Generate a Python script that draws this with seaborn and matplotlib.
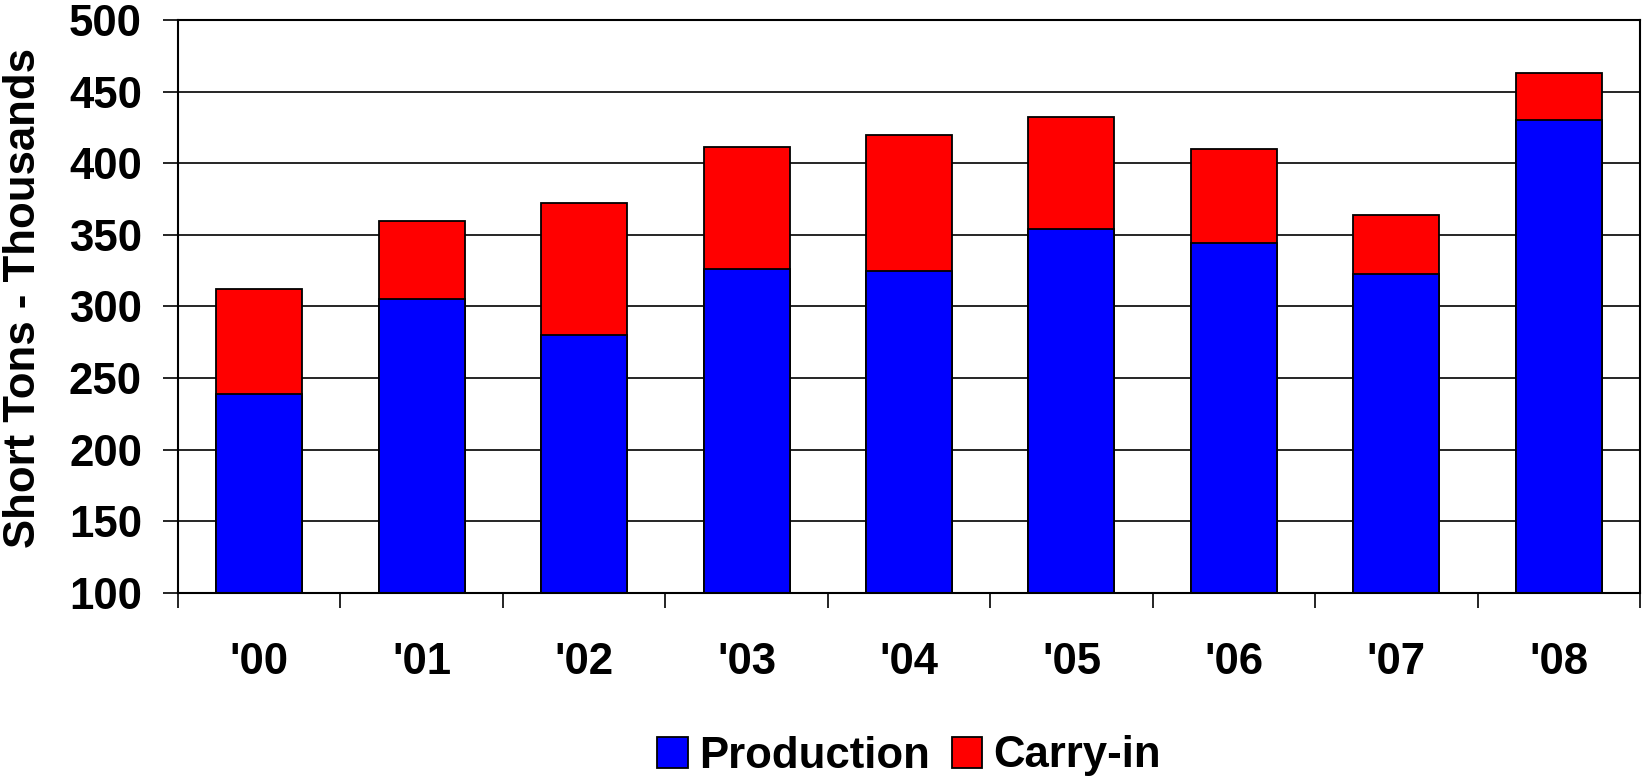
import numpy as np
import seaborn as sns
import matplotlib.pyplot as plt
from matplotlib.patches import Patch

# values (thousand short tons)
years = ["'00", "'01", "'02", "'03", "'04", "'05", "'06", "'07", "'08"]
production = [239, 305, 280, 326, 325, 354, 344, 323, 430]
carry_in = [73, 55, 92, 85, 95, 78, 66, 41, 33]

sns.set_style("white")
plt.rcParams['font.family'] = ['Liberation Sans', 'DejaVu Sans']
plt.rcParams['font.weight'] = 'bold'
plt.rcParams['text.color'] = 'black'
plt.rcParams['xtick.color'] = 'black'
plt.rcParams['ytick.color'] = 'black'

blue = '#0000ff'
red = '#ff0000'
fs = 31.5

totals = list(np.array(production) + np.array(carry_in))

fig = plt.figure(figsize=(16.42, 7.79), dpi=100)
ax = fig.add_axes([178 / 1642, 1 - 593 / 779, (1640 - 178) / 1642, (593 - 20) / 779])

# stacked bars: full height in red, production drawn over it in blue
sns.barplot(x=years, y=totals, color=red, width=0.53, edgecolor='black',
            linewidth=1.3, saturation=1, ax=ax)
sns.barplot(x=years, y=production, color=blue, width=0.53, edgecolor='black',
            linewidth=1.3, saturation=1, ax=ax)

ax.set_ylim(100, 500)
ax.set_xlim(-0.5, len(years) - 0.5)
ax.set_yticks(range(100, 501, 50))
ax.yaxis.grid(True, color='black', linewidth=1.2)
ax.set_axisbelow(True)

for s in ax.spines.values():
    s.set_color('black')
    s.set_linewidth(1.5)

ax.tick_params(axis='y', length=11, width=1.2, pad=15, labelsize=fs, left=True,
               labelcolor='black')
ax.set_xticks(range(len(years)))
ax.set_xticklabels(years, fontsize=fs, fontweight='bold', color='black')
ax.tick_params(axis='x', which='major', length=0, pad=35)
ax.set_xticks(np.arange(-0.5, len(years)), minor=True)
ax.tick_params(axis='x', which='minor', length=11, width=1.2, bottom=True)
for t in ax.get_yticklabels():
    t.set_fontweight('bold')

ax.set_xlabel('')
ax.set_ylabel('')
fig.text(24 / 1642, 1 - 298 / 779, 'Short Tons - Thousands', rotation=90,
         ha='center', va='center', fontsize=fs, fontweight='bold', color='black')

handles = [Patch(facecolor=blue, edgecolor='black', linewidth=1.3),
           Patch(facecolor=red, edgecolor='black', linewidth=1.3)]
fig.legend(handles, ['Production', 'Carry-in'], loc='center',
           bbox_to_anchor=(909 / 1642, 1 - 756 / 779), ncol=2, frameon=False,
           prop={'size': fs, 'weight': 'bold'}, handlelength=0.7,
           handleheight=0.7, handletextpad=0.25, columnspacing=0.5)

fig.savefig('out.png', dpi=100)
